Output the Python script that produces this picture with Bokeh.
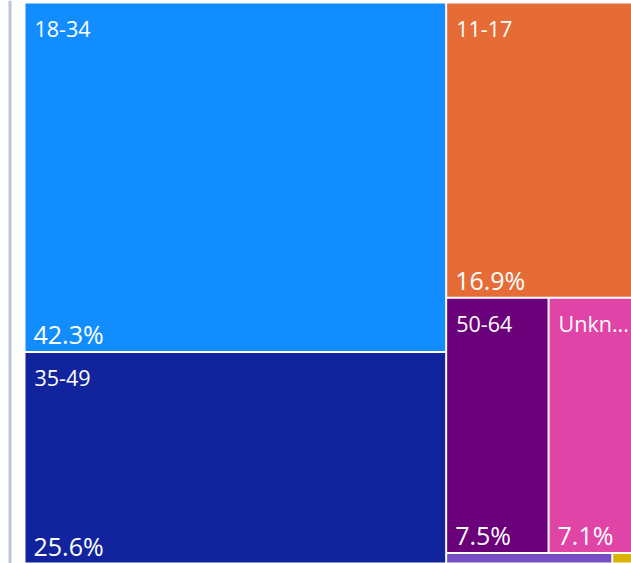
import math
from bokeh.plotting import figure
from bokeh.models import ColumnDataSource, Range1d
from bokeh.core.properties import value
from bokeh.embed import file_html
from bokeh.resources import INLINE

# ---- data ----
categories = ["18-34", "35-49", "11-17", "50-64", "Unknown", "65+", "0-10"]
shares = [42.3, 25.6, 16.9, 7.5, 7.1, 0.5, 0.1]
colors = ["#118DFF", "#12239E", "#E66C37", "#6B007B", "#E044A7", "#744EC2", "#D9B300"]
display_labels = ["18-34", "35-49", "11-17", "50-64", "Unkn...", "", ""]
pct_labels = ["42.3%", "25.6%", "16.9%", "7.5%", "7.1%", "0.5%", "0.1%"]

# ---- layout (d3-style squarified treemap, golden ratio) ----
PHI = (1 + 5 ** 0.5) / 2
EXT = (24.0, 2.0, 645.0, 563.0)  # visual area of the treemap (partly cropped)


def squarify(vals, x0, y0, x1, y1, ratio=PHI):
    rects = [None] * len(vals)
    n = len(vals)
    i0 = i1 = 0
    total = float(sum(vals))
    while i0 < n:
        dx, dy = x1 - x0, y1 - y0
        s = vals[i1]
        i1 += 1
        mn = mx = s
        alpha = max(dy / dx, dx / dy) / (total * ratio)
        beta = s * s * alpha
        min_ratio = max(mx / beta, beta / mn)
        while i1 < n:
            v = vals[i1]
            s += v
            mn = min(mn, v)
            mx = max(mx, v)
            beta = s * s * alpha
            nr = max(mx / beta, beta / mn)
            if nr > min_ratio:
                s -= v
                break
            min_ratio = nr
            i1 += 1
        row = list(range(i0, i1))
        if dx < dy:  # dice: horizontal row along top
            h = dy * s / total if total else dy
            cx = x0
            for k in row:
                w = dx * vals[k] / s
                rects[k] = (cx, y0, cx + w, y0 + h)
                cx += w
            y0 += h
        else:  # slice: vertical column along left
            w = dx * s / total if total else dx
            cy = y0
            for k in row:
                h = dy * vals[k] / s
                rects[k] = (x0, cy, x0 + w, cy + h)
                cy += h
            x0 += w
        total -= s
        i0 = i1
    return rects


rects = squarify(shares, *EXT)
GAP = 1.0
src = ColumnDataSource(dict(
    left=[r[0] + GAP for r in rects],
    right=[r[2] - GAP for r in rects],
    top=[r[1] + GAP for r in rects],
    bottom=[r[3] - GAP for r in rects],
    color=colors,
))

show = [(r[3] - r[1]) > 60 for r in rects]
lab_src = ColumnDataSource(dict(
    x=[r[0] + 10 for r, s in zip(rects, show) if s],
    y=[r[1] + 26 for r, s in zip(rects, show) if s],
    text=[t for t, s in zip(display_labels, show) if s],
))
pct_src = ColumnDataSource(dict(
    x=[r[0] + 9 for r, s in zip(rects, show) if s],
    y=[r[3] - 18 for r, s in zip(rects, show) if s],
    text=[t for t, s in zip(pct_labels, show) if s],
))

W, H = 631, 563
p = figure(width=W, height=H, output_backend="svg", toolbar_location=None,
           x_range=Range1d(0, W), y_range=Range1d(H, 0),
           min_border=0, min_border_left=0, min_border_right=0,
           min_border_top=0, min_border_bottom=0,
           styles={"position": "absolute", "left": "0px", "top": "0px"})
p.xaxis.visible = False
p.yaxis.visible = False
p.grid.visible = False
p.outline_line_color = None
p.background_fill_color = "white"
p.border_fill_color = "white"

# left container border
p.quad(left=[8], right=[11], top=[0], bottom=[H], fill_color="#BAC7D5", line_color=None)

p.quad(left="left", right="right", top="top", bottom="bottom", fill_color="color",
       line_color=None, source=src)

p.text(x="x", y="y", text="text", source=lab_src, text_color="white",
       text_font=value("Open Sans"), text_font_size="21.5px",
       text_baseline="alphabetic", text_align="left")
p.text(x="x", y="y", text="text", source=pct_src, text_color="white",
       text_font=value("Open Sans"), text_font_size="25px",
       text_baseline="alphabetic", text_align="left")

open("out.html", "w").write(file_html(p, INLINE))
